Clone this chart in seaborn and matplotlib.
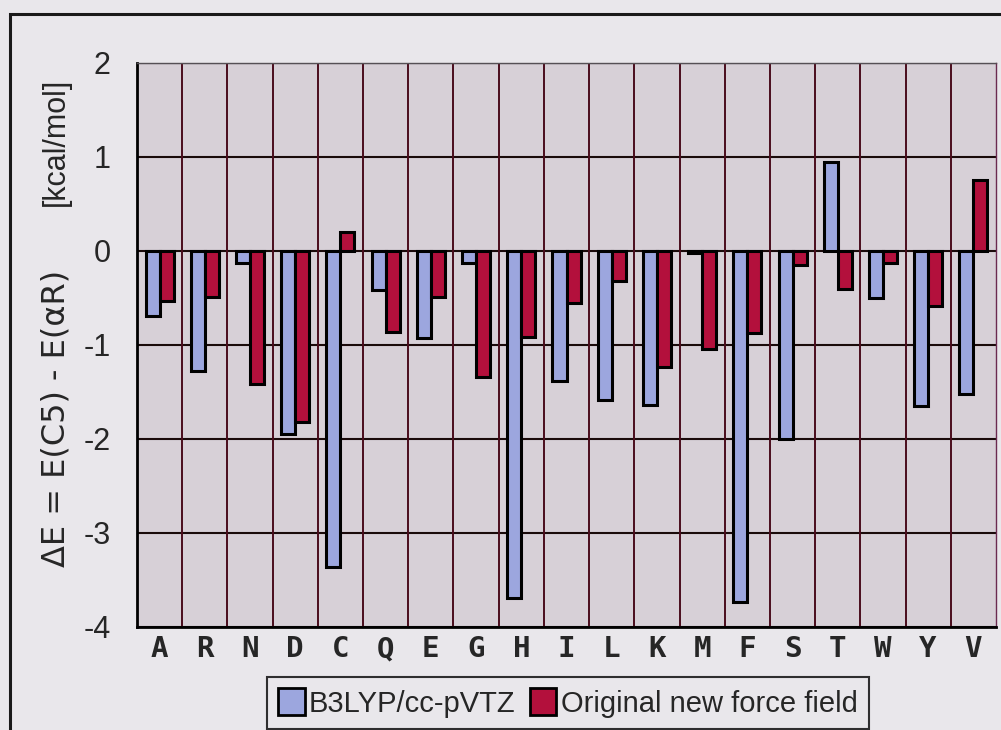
import numpy as np
import pandas as pd
import matplotlib
matplotlib.use("Agg")
import matplotlib.pyplot as plt
from matplotlib import font_manager
from matplotlib.patches import Rectangle, Patch
import seaborn as sns

residues = ["A", "R", "N", "D", "C", "Q", "E", "G", "H", "I",
            "L", "K", "M", "F", "S", "T", "W", "Y", "V"]
b3lyp = [-0.69, -1.28, -0.13, -1.95, -3.36, -0.41, -0.93, -0.13, -3.69, -1.38,
         -1.59, -1.64, -0.02, -3.73, -2.00, 0.95, -0.50, -1.65, -1.52]
newff = [-0.53, -0.49, -1.41, -1.82, 0.20, -0.86, -0.49, -1.34, -0.92, -0.55,
         -0.32, -1.23, -1.04, -0.87, -0.15, -0.40, -0.13, -0.59, 0.76]
series_names = ["B3LYP/cc-pVTZ", "Original new force field"]
yticks = [2, 1, 0, -1, -2, -3, -4]

df = pd.DataFrame({
    "residue": residues * 2,
    "dE": b3lyp + newff,
    "method": [series_names[0]] * len(residues) + [series_names[1]] * len(residues),
})

sns.set_theme(style="white")
avail = {f.name for f in font_manager.fontManager.ttflist}
narrow = "Liberation Sans Narrow" if "Liberation Sans Narrow" in avail else "Liberation Sans"
plt.rcParams["font.family"] = [narrow, "DejaVu Sans"]

fig_bg = "#e9e7eb"
plot_bg = "#d7d0d7"
blue = "#9ca6de"
red = "#b3103c"

fig = plt.figure(figsize=(10.01, 7.30), dpi=100, facecolor=fig_bg)
ax = fig.add_axes([137 / 1001, 1 - 627 / 730, (996 - 137) / 1001, (627 - 63) / 730])
ax.set_facecolor(plot_bg)

sns.barplot(data=df, x="residue", y="dE", hue="method", order=residues,
            hue_order=series_names, palette=[blue, red], width=0.62,
            edgecolor="black", linewidth=2.2, saturation=1, ax=ax,
            legend=False, zorder=3)

ax.set_ylim(-4, 2)
ax.set_xlim(-0.5, len(residues) - 0.5)
ax.set_yticks(yticks)
ax.set_yticklabels([str(v) for v in yticks], fontsize=22)
ax.set_xticks(range(len(residues)))
ax.set_xticklabels(residues, family="DejaVu Sans Mono", fontweight="bold", fontsize=21)
ax.tick_params(axis="both", length=0)
ax.tick_params(axis="y", pad=19)
ax.tick_params(axis="x", pad=6)
ax.set_xlabel("")
ax.set_ylabel("")

# gridlines
for v in yticks:
    ax.axhline(v, color="#1a0a0a", linewidth=1.5, zorder=1)
for i in range(len(residues) - 1):
    ax.axvline(i + 0.5, color="#4a0c1c", linewidth=1.4, zorder=1)

for side in ["left", "bottom"]:
    ax.spines[side].set_color("black")
    ax.spines[side].set_linewidth(2)
ax.spines["top"].set_color("#555055")
ax.spines["top"].set_linewidth(1)
ax.spines["right"].set_color("#6a2a50")
ax.spines["right"].set_linewidth(1)

# y-axis label
fig.text(56 / 1001, 1 - 418 / 730, "ΔE = E(C5) - E(αR)", rotation=90,
         ha="center", va="center", fontsize=23, family=["DejaVu Sans"])
fig.text(56 / 1001, 1 - 142 / 730, "[kcal/mol]", rotation=90,
         ha="center", va="center", fontsize=22, family=[narrow, "DejaVu Sans"])

# outer frame
fig.patches.append(Rectangle((10 / 1001, -0.1), 1.2, 1 - 14 / 730 + 0.1,
                             transform=fig.transFigure, fill=False,
                             edgecolor="#1a1a1a", linewidth=2.2))

handles = [Patch(facecolor=blue, edgecolor="black", linewidth=2),
           Patch(facecolor=red, edgecolor="black", linewidth=2)]
leg = fig.legend(handles, series_names, loc="center",
                 bbox_to_anchor=(568 / 1001, 1 - 703 / 730), ncol=2,
                 fontsize=21, frameon=True, fancybox=False,
                 handlelength=0.9, handleheight=1.0, handletextpad=0.15,
                 columnspacing=0.5, borderpad=0.4, borderaxespad=0)
leg.get_frame().set_edgecolor("black")
leg.get_frame().set_linewidth(1.5)
leg.get_frame().set_facecolor(fig_bg)

fig.savefig("out.png", dpi=100, facecolor=fig_bg)
